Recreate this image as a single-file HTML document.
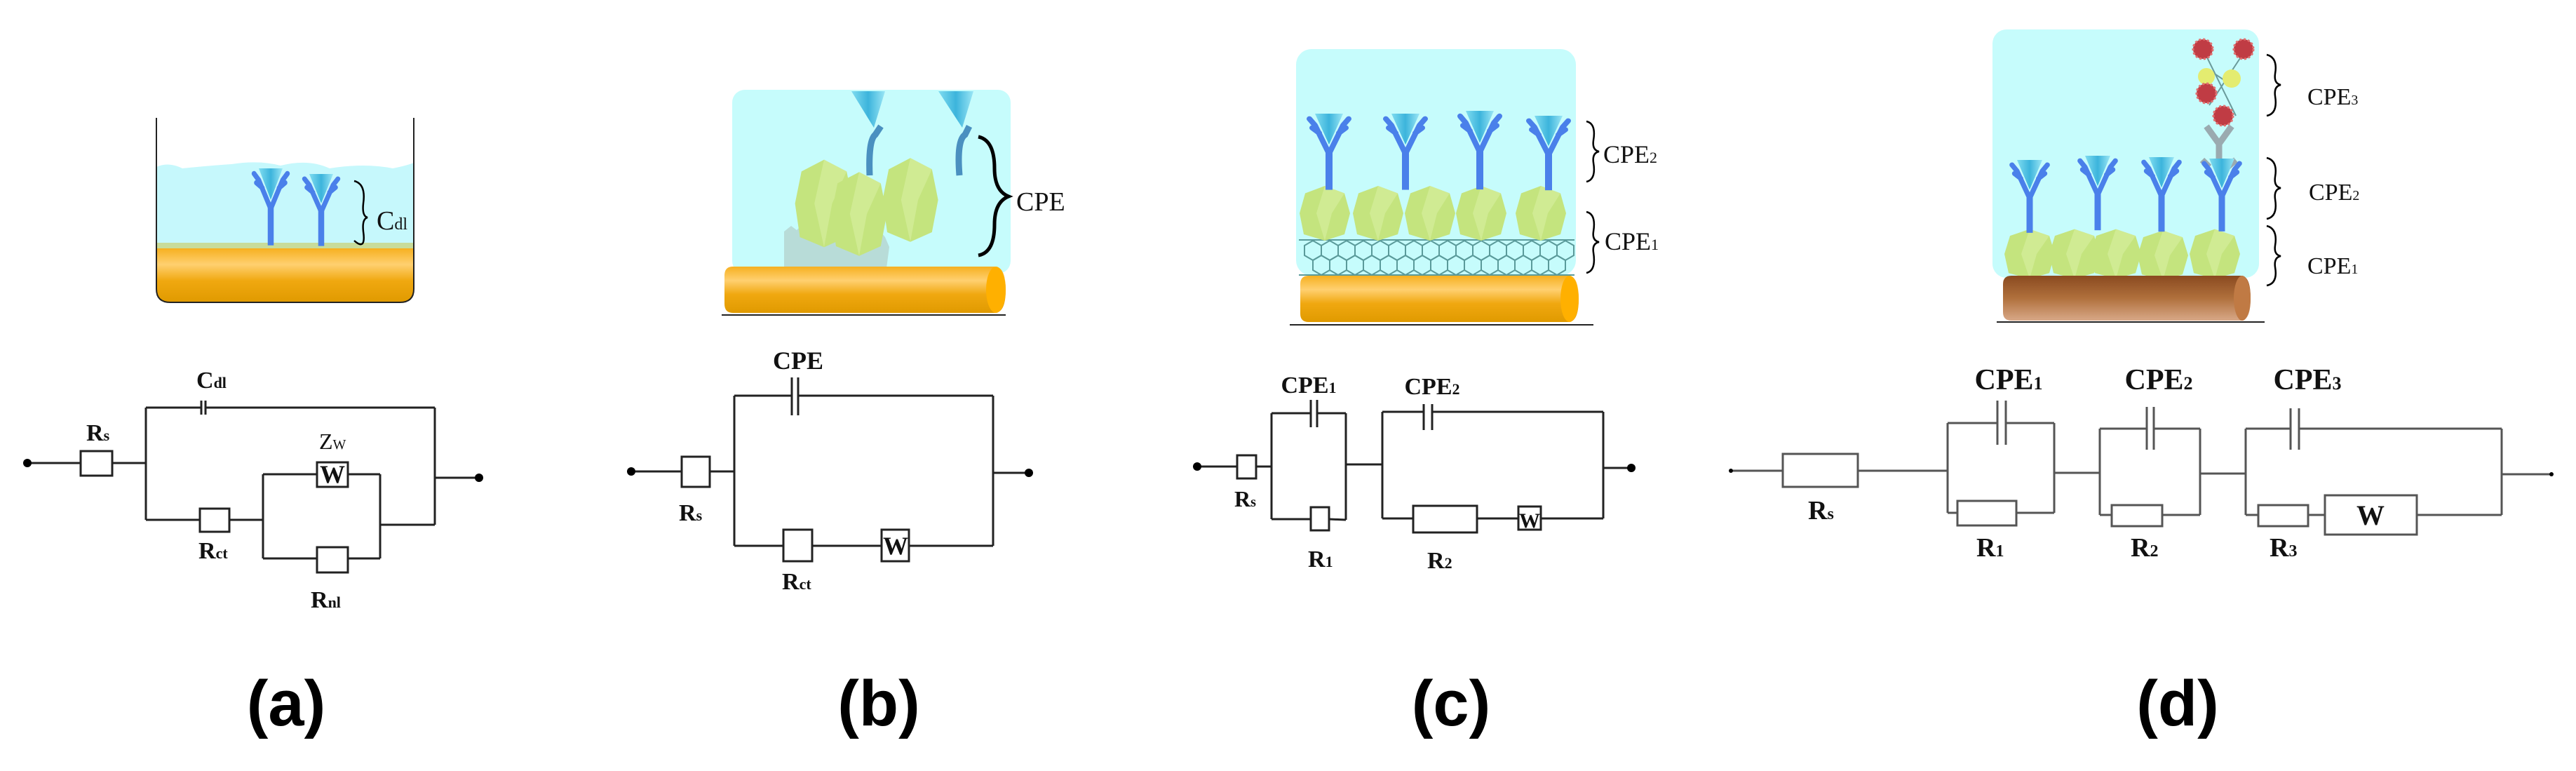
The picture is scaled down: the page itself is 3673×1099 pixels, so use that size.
<!DOCTYPE html>
<html><head><meta charset="utf-8"><style>
html,body{margin:0;padding:0;background:#fff;}
svg{display:block;}
.t{font-family:"Liberation Serif",serif;font-weight:bold;fill:#111;}
.n{font-family:"Liberation Serif",serif;fill:#111;}
.L{font-family:"Liberation Sans",sans-serif;font-weight:bold;fill:#000;}
</style></head><body>
<svg width="3673" height="1099" viewBox="0 0 3673 1099" xmlns="http://www.w3.org/2000/svg">
<defs>
<linearGradient id="gold" x1="0" y1="0" x2="0" y2="1">
<stop offset="0" stop-color="#f6b020"/><stop offset="0.3" stop-color="#ffd070"/><stop offset="0.6" stop-color="#f0a810"/><stop offset="1" stop-color="#e09a00"/></linearGradient>
<linearGradient id="brown" x1="0" y1="0" x2="0" y2="1">
<stop offset="0" stop-color="#8a4a20"/><stop offset="0.5" stop-color="#b0703c"/><stop offset="1" stop-color="#d8a888"/></linearGradient>
<linearGradient id="cone" x1="0" y1="0" x2="1" y2="0">
<stop offset="0" stop-color="#7fdcf0"/><stop offset="0.5" stop-color="#3cb4dc"/><stop offset="1" stop-color="#9ae6f5"/></linearGradient>
<g id="ab">
<polygon points="-20,0 20,0 0,48" fill="url(#cone)"/>
<path d="M0,62 L-20,18 M0,62 L20,18 M-20,18 L-28,8 M-14,30 L-24,22 M20,18 L28,8 M14,30 L24,22" stroke="#4a80ea" stroke-width="8" fill="none" stroke-linecap="round"/>
<rect x="-5" y="58" width="10" height="60" fill="#4a80ea"/>
</g>
<g id="blob">
<polygon points="0,-52 28,-38 36,0 28,40 0,52 -30,40 -36,0 -28,-38" fill="#c4e47e"/>
<polygon points="0,-52 28,-38 10,0 0,52 -12,0" fill="#d6ee9c" opacity="0.7"/>
</g>
</defs>

<!-- ===== Panel a illustration ===== -->
<path d="M223,238 Q240,230 260,240 Q300,236 330,234 Q370,228 400,236 Q440,226 470,240 Q520,232 560,240 Q580,236 590,232 L590,350 L223,350 Z" fill="#c6f8fc"/>
<rect x="223" y="346" width="367" height="8" fill="#c8dc9a"/>
<path d="M223,354 L590,354 L590,412 Q590,431 570,431 L243,431 Q223,431 223,412 Z" fill="url(#gold)"/>
<path d="M223,168 L223,412 Q223,431 243,431 L570,431 Q590,431 590,412 L590,168" fill="none" stroke="#222" stroke-width="2"/>
<use href="#ab" transform="translate(386,240) scale(0.85,0.93)"/>
<use href="#ab" transform="translate(458,248) scale(0.85,0.87)"/>
<path d="M505,258 Q522,262 518,290 Q516,308 524,310 Q516,312 518,330 Q522,358 505,343" fill="none" stroke="#000" stroke-width="2.5"/>
<text x="537" y="327" class="n" font-size="38">C<tspan font-size="24">dl</tspan></text>

<!-- ===== Panel a circuit ===== -->
<g stroke="#222" stroke-width="3" fill="none">
<path d="M39,660 L115,660 M160,660 L208,660 M208,581 L208,741 M208,581 L287,581 M293,581 L620,581 M620,581 L620,748 M620,681 L683,681 M208,741 L285,741 M327,741 L375,741 M375,676 L375,796 M375,676 L452,676 M496,676 L542,676 M375,796 L452,796 M496,796 L542,796 M542,676 L542,796 M542,748 L620,748"/>
<path d="M287,571 L287,591 M293,571 L293,591"/>
<rect x="115" y="643" width="45" height="35" fill="#fff"/>
<rect x="285" y="725" width="42" height="33" fill="#fff"/>
<rect x="452" y="659" width="44" height="35" fill="#fff"/>
<rect x="452" y="780" width="44" height="36" fill="#fff"/>
</g>
<circle cx="39" cy="660" r="6" fill="#000"/><circle cx="683" cy="681" r="6" fill="#000"/>
<text x="474" y="688" class="t" font-size="36" text-anchor="middle">W</text>
<text x="280" y="553" class="t" font-size="34">C<tspan font-size="22">dl</tspan></text>
<text x="123" y="628" class="t" font-size="34">R<tspan font-size="22">s</tspan></text>
<text x="455" y="640" class="n" font-size="32">Z<tspan font-size="20">W</tspan></text>
<text x="283" y="796" class="t" font-size="34">R<tspan font-size="22">ct</tspan></text>
<text x="443" y="866" class="t" font-size="34">R<tspan font-size="22">nl</tspan></text>
<text x="408" y="1034" class="L" font-size="92" text-anchor="middle">(a)</text>

<!-- ===== Panel b illustration ===== -->
<rect x="1044" y="128" width="397" height="262" rx="18" fill="#c6fcfc"/>
<path d="M1118,330 l10,-8 l8,6 l10,-10 l10,8 l12,-6 l10,10 l12,-4 l8,10 l10,-8 l12,6 l10,-10 l12,8 l12,-4 l8,10 l6,14 l-4,30 L1118,380 Z" fill="#b8dcd8"/>
<use href="#blob" transform="translate(1175,290) scale(1.15,1.2)"/>
<use href="#blob" transform="translate(1225,305) scale(1.1,1.15)"/>
<use href="#blob" transform="translate(1298,285) scale(1.1,1.15)"/>
<path d="M1240,250 Q1238,200 1248,192 L1256,180 M1368,250 Q1364,200 1376,192 L1382,180" stroke="#4a90c0" stroke-width="9" fill="none"/>
<polygon points="1214,130 1262,130 1246,182" fill="url(#cone)"/>
<polygon points="1338,130 1388,130 1372,182" fill="url(#cone)"/>
<path d="M1033,393 Q1033,380 1045,380 L1418,380 Q1434,380 1434,413 Q1434,446 1418,446 L1045,446 Q1033,446 1033,433 Z" fill="url(#gold)"/>
<ellipse cx="1420" cy="413" rx="14" ry="33" fill="#ffb000"/>
<line x1="1029" y1="449" x2="1434" y2="449" stroke="#222" stroke-width="2"/>
<path d="M1395,195 Q1418,200 1418,240 Q1418,272 1438,280 Q1418,288 1418,320 Q1418,360 1395,364" fill="none" stroke="#000" stroke-width="5"/>
<text x="1449" y="300" class="n" font-size="38">CPE</text>

<!-- ===== Panel b circuit ===== -->
<g stroke="#222" stroke-width="3" fill="none">
<path d="M900,672 L972,672 M1012,672 L1047,672 M1047,564 L1047,778 M1047,564 L1129,564 M1138,564 L1416,564 M1416,564 L1416,778 M1416,674 L1467,674 M1047,778 L1117,778 M1158,778 L1257,778 M1296,778 L1416,778"/>
<path d="M1129,538 L1129,592 M1138,538 L1138,592"/>
<rect x="972" y="651" width="40" height="43" fill="#fff"/>
<rect x="1117" y="755" width="41" height="45" fill="#fff"/>
<rect x="1257" y="755" width="39" height="45" fill="#fff"/>
</g>
<circle cx="900" cy="672" r="6" fill="#000"/><circle cx="1467" cy="674" r="6" fill="#000"/>
<text x="1277" y="790" class="t" font-size="36" text-anchor="middle">W</text>
<text x="1138" y="526" class="t" font-size="36" text-anchor="middle">CPE</text>
<text x="968" y="742" class="t" font-size="34">R<tspan font-size="22">s</tspan></text>
<text x="1115" y="840" class="t" font-size="34">R<tspan font-size="22">ct</tspan></text>
<text x="1253" y="1034" class="L" font-size="92" text-anchor="middle">(b)</text>

<!-- ===== Panel c illustration ===== -->
<rect x="1848" y="70" width="399" height="323" rx="22" fill="#c6fcfc"/>
<g stroke="#5a9a9a" stroke-width="2" fill="none">
<path d="M1852,342 L2245,342 M1852,392 L2245,392"/>
<path d="M1860,350 l12,-7 l12,7 l0,14 l-12,7 l-12,-7 Z M1884,350 l12,-7 l12,7 l0,14 l-12,7 l-12,-7 Z M1908,350 l12,-7 l12,7 l0,14 l-12,7 l-12,-7 Z M1932,350 l12,-7 l12,7 l0,14 l-12,7 l-12,-7 Z M1956,350 l12,-7 l12,7 l0,14 l-12,7 l-12,-7 Z M1980,350 l12,-7 l12,7 l0,14 l-12,7 l-12,-7 Z M2004,350 l12,-7 l12,7 l0,14 l-12,7 l-12,-7 Z M2028,350 l12,-7 l12,7 l0,14 l-12,7 l-12,-7 Z M2052,350 l12,-7 l12,7 l0,14 l-12,7 l-12,-7 Z M2076,350 l12,-7 l12,7 l0,14 l-12,7 l-12,-7 Z M2100,350 l12,-7 l12,7 l0,14 l-12,7 l-12,-7 Z M2124,350 l12,-7 l12,7 l0,14 l-12,7 l-12,-7 Z M2148,350 l12,-7 l12,7 l0,14 l-12,7 l-12,-7 Z M2172,350 l12,-7 l12,7 l0,14 l-12,7 l-12,-7 Z M2196,350 l12,-7 l12,7 l0,14 l-12,7 l-12,-7 Z M2220,350 l12,-7 l12,7 l0,14 l-12,7 l-12,-7 Z"/>
<path d="M1872,371 l12,-7 l12,7 l0,14 l-12,7 l-12,-7 Z M1896,371 l12,-7 l12,7 l0,14 l-12,7 l-12,-7 Z M1920,371 l12,-7 l12,7 l0,14 l-12,7 l-12,-7 Z M1944,371 l12,-7 l12,7 l0,14 l-12,7 l-12,-7 Z M1968,371 l12,-7 l12,7 l0,14 l-12,7 l-12,-7 Z M1992,371 l12,-7 l12,7 l0,14 l-12,7 l-12,-7 Z M2016,371 l12,-7 l12,7 l0,14 l-12,7 l-12,-7 Z M2040,371 l12,-7 l12,7 l0,14 l-12,7 l-12,-7 Z M2064,371 l12,-7 l12,7 l0,14 l-12,7 l-12,-7 Z M2088,371 l12,-7 l12,7 l0,14 l-12,7 l-12,-7 Z M2112,371 l12,-7 l12,7 l0,14 l-12,7 l-12,-7 Z M2136,371 l12,-7 l12,7 l0,14 l-12,7 l-12,-7 Z M2160,371 l12,-7 l12,7 l0,14 l-12,7 l-12,-7 Z M2184,371 l12,-7 l12,7 l0,14 l-12,7 l-12,-7 Z M2208,371 l12,-7 l12,7 l0,14 l-12,7 l-12,-7 Z"/>
</g>
<use href="#blob" transform="translate(1889,304) scale(1.0,0.75)"/>
<use href="#blob" transform="translate(1965,304) scale(1.0,0.75)"/>
<use href="#blob" transform="translate(2039,304) scale(1.0,0.75)"/>
<use href="#blob" transform="translate(2112,304) scale(1.0,0.75)"/>
<use href="#blob" transform="translate(2197,304) scale(1.0,0.75)"/>
<use href="#ab" transform="translate(1895,162) scale(1.0,0.92)"/>
<use href="#ab" transform="translate(2004,162) scale(1.0,0.92)"/>
<use href="#ab" transform="translate(2110,158) scale(1.0,0.95)"/>
<use href="#ab" transform="translate(2208,165) scale(1.0,0.9)"/>
<path d="M1854,405 Q1854,393 1866,393 L2236,393 Q2251,393 2251,426 Q2251,459 2236,459 L1866,459 Q1854,459 1854,447 Z" fill="url(#gold)"/>
<ellipse cx="2238" cy="426" rx="13" ry="33" fill="#ffb000"/>
<line x1="1839" y1="463" x2="2272" y2="463" stroke="#222" stroke-width="2"/>
<path d="M2262,173 Q2276,176 2272,200 Q2270,214 2280,216 Q2270,218 2272,232 Q2276,256 2262,259" fill="none" stroke="#000" stroke-width="2.5"/>
<path d="M2262,302 Q2276,305 2272,330 Q2270,343 2280,345 Q2270,347 2272,360 Q2276,386 2262,389" fill="none" stroke="#000" stroke-width="2.5"/>
<text x="2286" y="232" class="n" font-size="36">CPE<tspan font-size="22">2</tspan></text>
<text x="2288" y="356" class="n" font-size="36">CPE<tspan font-size="22">1</tspan></text>

<!-- ===== Panel c circuit ===== -->
<g stroke="#222" stroke-width="3" fill="none">
<path d="M1707,665 L1764,665 M1791,665 L1813,665 M1813,589 L1813,740 M1813,589 L1869,589 M1878,589 L1919,589 M1919,589 L1919,741 M1813,740 L1869,740 M1895,740 L1919,741 M1919,662 L1971,662 M1971,587 L1971,739 M1971,587 L2030,587 M2042,587 L2286,587 M2286,587 L2286,739 M2286,667 L2326,667 M1971,739 L2015,739 M2106,739 L2165,739 M2197,739 L2286,739"/>
<path d="M1869,570 L1869,609 M1878,570 L1878,609 M2030,576 L2030,613 M2042,576 L2042,613"/>
<rect x="1764" y="649" width="27" height="33" fill="#fff"/>
<rect x="1869" y="723" width="26" height="33" fill="#fff"/>
<rect x="2015" y="721" width="91" height="38" fill="#fff"/>
<rect x="2165" y="722" width="32" height="33" fill="#fff"/>
</g>
<circle cx="1707" cy="665" r="6" fill="#000"/><circle cx="2326" cy="667" r="6" fill="#000"/>
<text x="2181" y="752" class="t" font-size="30" text-anchor="middle">W</text>
<text x="1866" y="560" class="t" font-size="34" text-anchor="middle">CPE<tspan font-size="22">1</tspan></text>
<text x="2042" y="562" class="t" font-size="34" text-anchor="middle">CPE<tspan font-size="22">2</tspan></text>
<text x="1760" y="722" class="t" font-size="32">R<tspan font-size="20">s</tspan></text>
<text x="1865" y="808" class="t" font-size="34">R<tspan font-size="22">1</tspan></text>
<text x="2035" y="810" class="t" font-size="34">R<tspan font-size="22">2</tspan></text>
<text x="2069" y="1034" class="L" font-size="92" text-anchor="middle">(c)</text>

<!-- ===== Panel d illustration ===== -->
<rect x="2841" y="42" width="380" height="354" rx="20" fill="#c6fcfc"/>
<path d="M3164,238 L3164,205 L3146,180 M3164,205 L3182,180 M3150,238 L3140,228 M3176,238 L3188,228" stroke="#9aaab0" stroke-width="9" fill="none"/>
<path d="M3146,80 L3188,165 M3196,80 L3150,150 M3150,100 L3180,120" stroke="#6a9a9a" stroke-width="2" fill="none"/>
<circle cx="3146" cy="109" r="12" fill="#e4ec70"/><circle cx="3182" cy="112" r="13" fill="#e4ec70"/>
<g fill="#c03c44" stroke="#e07070" stroke-width="3" stroke-dasharray="3 3">
<circle cx="3141" cy="70" r="14"/><circle cx="3199" cy="70" r="14"/><circle cx="3146" cy="133" r="14"/><circle cx="3170" cy="165" r="14"/>
</g>
<use href="#blob" transform="translate(2894,362) scale(1.0,0.68)"/>
<use href="#blob" transform="translate(2958,362) scale(1.0,0.68)"/>
<use href="#blob" transform="translate(3017,362) scale(1.0,0.68)"/>
<use href="#blob" transform="translate(3084,364) scale(1.0,0.68)"/>
<use href="#blob" transform="translate(3158,362) scale(1.0,0.68)"/>
<use href="#ab" transform="translate(2894,228) scale(0.9,0.88)"/>
<use href="#ab" transform="translate(2991,222) scale(0.9,0.9)"/>
<use href="#ab" transform="translate(3082,224) scale(0.9,0.9)"/>
<use href="#ab" transform="translate(3168,226) scale(0.9,0.88)"/>
<path d="M2856,405 Q2856,393 2868,393 L3195,393 Q3209,393 3209,425 Q3209,457 3195,457 L2868,457 Q2856,457 2856,445 Z" fill="url(#brown)"/>
<ellipse cx="3197" cy="425" rx="12" ry="32" fill="#c07a44"/>
<line x1="2847" y1="459" x2="3229" y2="459" stroke="#222" stroke-width="2"/>
<path d="M3232,78 Q3248,82 3244,105 Q3242,119 3252,121 Q3242,123 3244,137 Q3248,162 3232,165" fill="none" stroke="#000" stroke-width="2.5"/>
<path d="M3232,225 Q3248,229 3244,252 Q3242,266 3252,268 Q3242,270 3244,284 Q3248,309 3232,312" fill="none" stroke="#000" stroke-width="2.5"/>
<path d="M3232,322 Q3248,326 3244,350 Q3242,363 3252,365 Q3242,367 3244,381 Q3248,404 3232,407" fill="none" stroke="#000" stroke-width="2.5"/>
<text x="3290" y="149" class="n" font-size="34">CPE<tspan font-size="20">3</tspan></text>
<text x="3292" y="285" class="n" font-size="34">CPE<tspan font-size="20">2</tspan></text>
<text x="3290" y="390" class="n" font-size="34">CPE<tspan font-size="20">1</tspan></text>

<!-- ===== Panel d circuit ===== -->
<g stroke="#555" stroke-width="3" fill="none">
<path d="M2468,671 L2542,671 M2649,671 L2777,671 M2777,603 L2777,731 M2777,603 L2848,603 M2860,603 L2929,603 M2929,603 L2929,731 M2777,731 L2791,731 M2875,731 L2929,731 M2929,674 L2994,674 M2994,611 L2994,734 M2994,611 L3061,611 M3071,611 L3137,611 M3137,611 L3137,734 M2994,734 L3011,734 M3083,734 L3137,734 M3137,675 L3202,675 M3202,611 L3202,734 M3202,611 L3266,611 M3278,611 L3567,611 M3567,611 L3567,734 M3202,734 L3220,734 M3291,734 L3315,734 M3446,734 L3567,734 M3567,676 L3638,676"/>
<path d="M2848,571 L2848,634 M2860,571 L2860,634 M3061,580 L3061,641 M3071,580 L3071,641 M3266,582 L3266,641 M3278,582 L3278,641"/>
<rect x="2542" y="647" width="107" height="47" fill="#fff"/>
<rect x="2791" y="714" width="84" height="35" fill="#fff"/>
<rect x="3011" y="720" width="72" height="30" fill="#fff"/>
<rect x="3220" y="720" width="71" height="30" fill="#fff"/>
<rect x="3315" y="706" width="131" height="56" fill="#fff"/>
</g>
<circle cx="2468" cy="671" r="3" fill="#000"/><circle cx="3638" cy="676" r="3" fill="#000"/>
<text x="3380" y="748" class="t" font-size="40" text-anchor="middle">W</text>
<text x="2864" y="555" class="t" font-size="42" text-anchor="middle">CPE<tspan font-size="26">1</tspan></text>
<text x="3078" y="555" class="t" font-size="42" text-anchor="middle">CPE<tspan font-size="26">2</tspan></text>
<text x="3290" y="555" class="t" font-size="42" text-anchor="middle">CPE<tspan font-size="26">3</tspan></text>
<text x="2578" y="740" class="t" font-size="38">R<tspan font-size="24">s</tspan></text>
<text x="2818" y="793" class="t" font-size="38">R<tspan font-size="24">1</tspan></text>
<text x="3038" y="793" class="t" font-size="38">R<tspan font-size="24">2</tspan></text>
<text x="3236" y="793" class="t" font-size="38">R<tspan font-size="24">3</tspan></text>
<text x="3105" y="1034" class="L" font-size="92" text-anchor="middle">(d)</text>
</svg>
</body></html>
